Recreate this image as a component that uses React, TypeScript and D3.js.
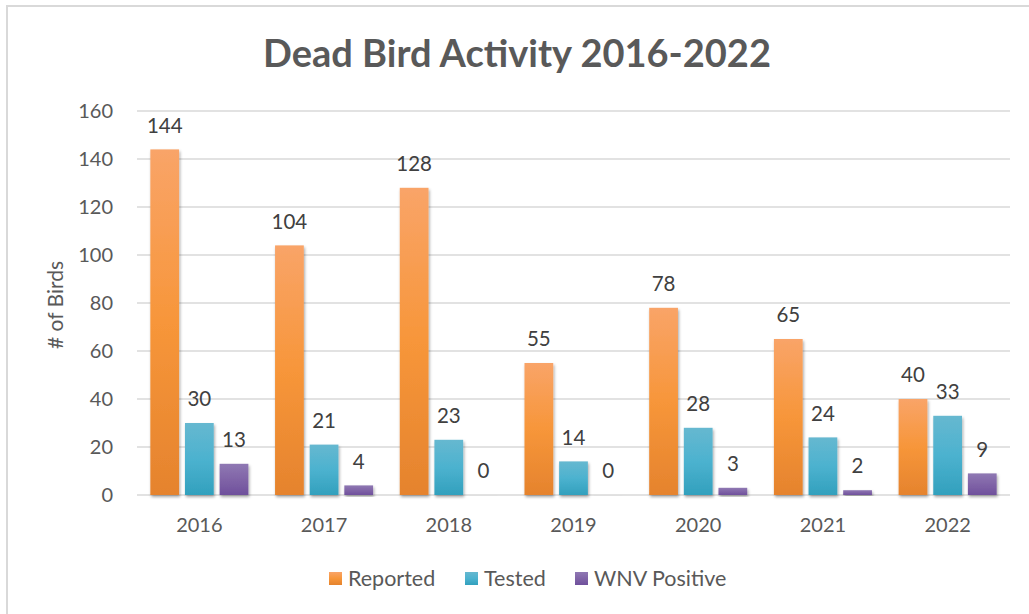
import * as d3 from "d3";
import { useEffect, useRef } from "react";

const years = ["2016", "2017", "2018", "2019", "2020", "2021", "2022"];
const seriesNames = ["Reported", "Tested", "WNV Positive"];
const reported = [144, 104, 128, 55, 78, 65, 40];
const tested = [30, 21, 23, 14, 28, 24, 33];
const wnvPositive = [13, 4, 0, 0, 3, 2, 9];
const yTicks = [0, 20, 40, 60, 80, 100, 120, 140, 160];

// top, middle, bottom colours of each series gradient
const seriesColors = [
  ["#f9a468", "#f7963a", "#e5832d"],
  ["#66b8d0", "#4cb2cf", "#32a0bd"],
  ["#8f78b3", "#8064a7", "#6f509c"],
];

export default function App() {
  const svgRef = useRef<SVGSVGElement>(null);
  const width = 1029;
  const height = 614;

  useEffect(() => {
    const svg = d3.select(svgRef.current).attr("width", width).attr("height", height);
    svg.selectAll("*").remove();

    const font = "Lato, 'Open Sans', sans-serif";
    const values = [reported, tested, wnvPositive];

    const defs = svg.append("defs");
    seriesColors.forEach((c, i) => {
      const g = defs.append("linearGradient").attr("id", `grad${i}`)
        .attr("x1", 0).attr("y1", 0).attr("x2", 0).attr("y2", 1);
      g.append("stop").attr("offset", "0%").attr("stop-color", c[0]);
      g.append("stop").attr("offset", "50%").attr("stop-color", c[1]);
      g.append("stop").attr("offset", "100%").attr("stop-color", c[2]);
    });
    const shadow = defs.append("filter").attr("id", "shadow")
      .attr("x", "-30%").attr("y", "-10%").attr("width", "160%").attr("height", "130%");
    shadow.append("feDropShadow").attr("dx", 1).attr("dy", 2)
      .attr("stdDeviation", 1.8).attr("flood-color", "#000").attr("flood-opacity", 0.35);

    // chart border
    svg.append("rect").attr("x", 7).attr("y", 6).attr("width", width).attr("height", height)
      .attr("fill", "#fff").attr("stroke", "#d9d9d9").attr("stroke-width", 2);

    const x0 = d3.scaleBand().domain(years).range([137, 1010]);
    const groupW = x0.bandwidth() * 0.786;
    const x1 = d3.scaleBand().domain(seriesNames).range([0, groupW]).paddingInner(0.17);
    const y = d3.scaleLinear().domain([0, 160]).range([495, 111]);

    // gridlines
    svg.append("g").selectAll("line").data(yTicks).enter().append("line")
      .attr("x1", 137).attr("x2", 1010)
      .attr("y1", d => y(d)).attr("y2", d => y(d))
      .attr("stroke", "#d9d9d9").attr("stroke-width", 1.5);

    // y tick labels
    svg.append("g").selectAll("text").data(yTicks).enter().append("text")
      .attr("x", 113).attr("y", d => y(d)).attr("dy", "0.35em")
      .attr("text-anchor", "end").attr("font-family", font).attr("font-size", 20)
      .attr("fill", "#595959").text(d => d);

    // y axis title
    svg.append("text").attr("transform", "translate(63,305) rotate(-90)")
      .attr("text-anchor", "middle").attr("font-family", font).attr("font-size", 21)
      .attr("fill", "#595959").text("# of Birds");

    // x labels
    svg.append("g").selectAll("text").data(years).enter().append("text")
      .attr("x", d => x0(d)! + x0.bandwidth() / 2).attr("y", 525).attr("dy", "0.35em")
      .attr("text-anchor", "middle").attr("font-family", font).attr("font-size", 20)
      .attr("fill", "#595959").text(d => d);

    const offset = (x0.bandwidth() - groupW) / 2;
    const bars = years.flatMap((yr, i) =>
      seriesNames.map((s, k) => ({ yr, s, k, v: values[k][i] }))
    );

    const barG = svg.append("g");
    barG.selectAll("rect").data(bars).enter().append("rect")
      .attr("x", d => x0(d.yr)! + offset + x1(d.s)!)
      .attr("y", d => y(d.v))
      .attr("width", x1.bandwidth())
      .attr("height", d => Math.max(0.01, y(0) - y(d.v)))
      .attr("fill", d => `url(#grad${d.k})`)
      .attr("filter", "url(#shadow)");

    barG.selectAll("text").data(bars).enter().append("text")
      .attr("x", d => x0(d.yr)! + offset + x1(d.s)! + x1.bandwidth() / 2)
      .attr("y", d => y(d.v) - 24).attr("dy", "0.35em")
      .attr("text-anchor", "middle").attr("font-family", font).attr("font-size", 20.5)
      .attr("fill", "#404040").text(d => d.v);

    // title
    svg.append("text").attr("x", 517).attr("y", 67).attr("text-anchor", "middle")
      .attr("font-family", font).attr("font-size", 38).attr("font-weight", "bold")
      .attr("fill", "#595959").text("Dead Bird Activity 2016-2022");

    // legend
    const legendX = [329, 465, 575];
    const lg = svg.append("g");
    seriesNames.forEach((s, k) => {
      lg.append("rect").attr("x", legendX[k]).attr("y", 572).attr("width", 13).attr("height", 13)
        .attr("fill", `url(#grad${k})`);
      lg.append("text").attr("x", legendX[k] + 19).attr("y", 578).attr("dy", "0.35em")
        .attr("font-family", font).attr("font-size", 21.5).attr("fill", "#595959").text(s);
    });
  }, []);

  return (
    <div style={{ position: "absolute", left: 0, top: 0 }}>
      <svg ref={svgRef}></svg>
    </div>
  );
}
